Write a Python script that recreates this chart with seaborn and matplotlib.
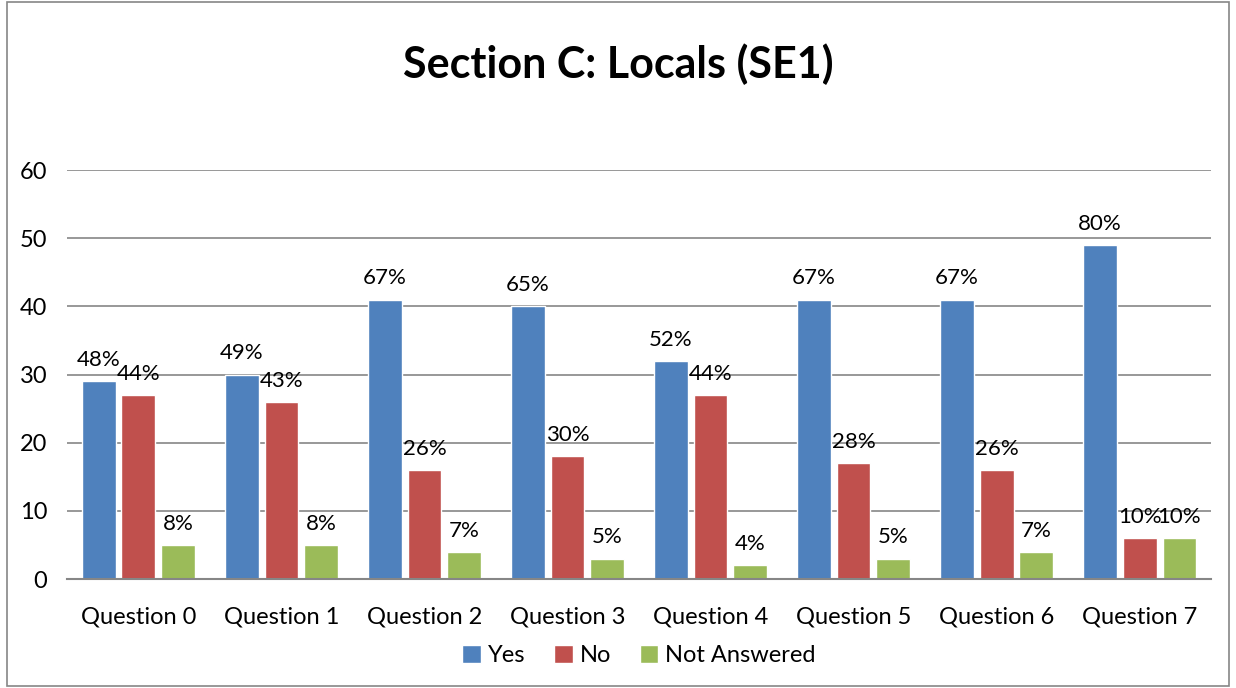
import pandas as pd
import matplotlib.pyplot as plt
import seaborn as sns
from matplotlib.patches import Rectangle

questions = ["Question 0", "Question 1", "Question 2", "Question 3",
             "Question 4", "Question 5", "Question 6", "Question 7"]
answers = ["Yes", "No", "Not Answered"]

yes_counts = [29, 30, 41, 40, 32, 41, 41, 49]
no_counts = [27, 26, 16, 18, 27, 17, 16, 6]
na_counts = [5, 5, 4, 3, 2, 3, 4, 6]

yes_pct = ["48%", "49%", "67%", "65%", "52%", "67%", "67%", "80%"]
no_pct = ["44%", "43%", "26%", "30%", "44%", "28%", "26%", "10%"]
na_pct = ["8%", "8%", "7%", "5%", "4%", "5%", "7%", "10%"]

colors = ["#4F81BD", "#C0504D", "#9BBB59"]

rows = []
for i, q in enumerate(questions):
    for ans, counts, pcts in zip(answers, [yes_counts, no_counts, na_counts],
                                 [yes_pct, no_pct, na_pct]):
        rows.append({"question": q, "answer": ans,
                     "count": counts[i], "pct": pcts[i]})
data = pd.DataFrame(rows)

sns.set_style("white")
plt.rcParams["font.family"] = ["Lato", "DejaVu Sans"]
plt.rcParams["text.color"] = "black"

fig = plt.figure(figsize=(12.36, 6.88), dpi=100)
ax = fig.add_axes([0.054, 0.1584, 0.926, 0.5945])

sns.barplot(data=data, x="question", y="count", hue="answer",
            hue_order=answers, palette=colors, width=0.83, gap=0.15,
            saturation=1, ax=ax, legend=True)

# percentage labels above the bars
for container, ans in zip(ax.containers, answers):
    labels = data[data["answer"] == ans]["pct"].tolist()
    ax.bar_label(container, labels=labels, padding=8, fontsize=16, color="black")

ax.set_ylim(0, 60)
ax.set_yticks(range(0, 61, 10))
ax.set_xlim(-0.5, len(questions) - 0.5)
ax.yaxis.grid(True, color="#868686", linewidth=1.2)
ax.set_axisbelow(True)
ax.set_xlabel("")
ax.set_ylabel("")
for side in ["top", "right", "left"]:
    ax.spines[side].set_visible(False)
ax.spines["bottom"].set_color("#868686")
ax.spines["bottom"].set_linewidth(1.5)
ax.tick_params(axis="both", length=0, labelsize=17, colors="black")
ax.tick_params(axis="x", pad=20)
ax.tick_params(axis="y", pad=14)

ax.legend(loc="upper center", bbox_to_anchor=(0.5, -0.11), ncol=3,
          frameon=False, fontsize=17, handlelength=0.8, handleheight=0.8,
          handletextpad=0.3, columnspacing=1.2)

fig.suptitle("Section C: Locals (SE1)", y=0.937, fontsize=31, fontweight="bold",
             color="black")

# chart border
fig.patches.append(Rectangle((0.006, 0.003), 0.988, 0.994, transform=fig.transFigure,
                             fill=False, edgecolor="#868686", linewidth=1.2))

fig.savefig("out.png", dpi=100)
